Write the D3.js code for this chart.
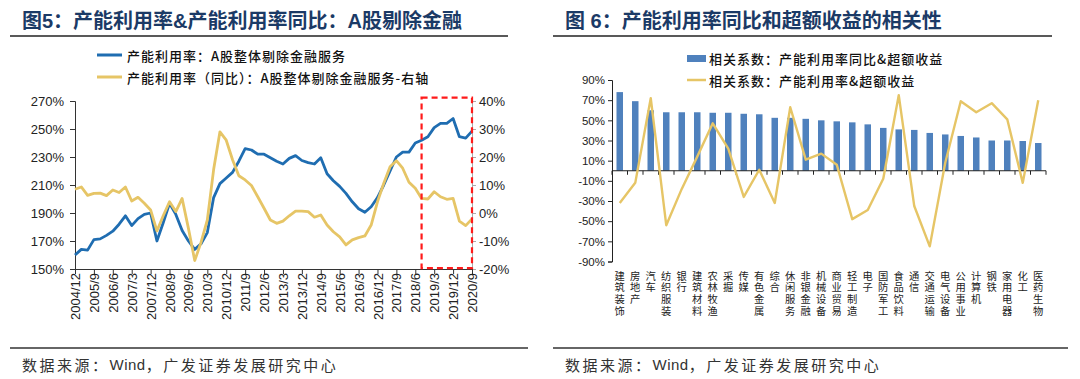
<!DOCTYPE html>
<html><head><meta charset="utf-8">
<script src="https://cdn.jsdelivr.net/npm/d3@7"></script>
<style>
html,body{margin:0;padding:0;background:#fff;}
svg{display:block;}
</style></head>
<body>
<svg id="c" width="1080" height="379"></svg>
<script>
// ---------- Data: left chart (Fig 5) ----------
const quarters = ["2004/12",
"2005/3","2005/6","2005/9","2005/12","2006/3","2006/6","2006/9","2006/12",
"2007/3","2007/6","2007/9","2007/12","2008/3","2008/6","2008/9","2008/12",
"2009/3","2009/6","2009/9","2009/12","2010/3","2010/6","2010/9","2010/12",
"2011/3","2011/6","2011/9","2011/12","2012/3","2012/6","2012/9","2012/12",
"2013/3","2013/6","2013/9","2013/12","2014/3","2014/6","2014/9","2014/12",
"2015/3","2015/6","2015/9","2015/12","2016/3","2016/6","2016/9","2016/12",
"2017/3","2017/6","2017/9","2017/12","2018/3","2018/6","2018/9","2018/12",
"2019/3","2019/6","2019/9","2019/12","2020/3","2020/6","2020/9"];
const quarterTicks = ["2004/12","2005/9","2006/6","2007/3","2007/12","2008/9","2009/6","2010/3",
"2010/12","2011/9","2012/6","2013/3","2013/12","2014/9","2015/6","2016/3","2016/12","2017/9",
"2018/6","2019/3","2019/12","2020/9"];
const capUtil = [160,164,163.5,171,171.5,174,177,182,188,181,
186,189,190,170,183,197,189,177.5,170,164,
168,176,201,211,215,219,227,236,235,232,
232,229.5,227,225,229,231,227.5,226,225,229.5,
218,213,209,204,198,193,190.5,194.5,201,210,
220,230,233.5,233.5,240,242,244.5,251,254,254,
257.5,244.5,243.5,248.5];
const capUtilYoY = [8.5,9.3,6.3,7,7.1,6.2,8.2,7.3,9.3,4.3,
5.6,3.5,1.1,-6.4,-1,4,0.5,5.2,-5.5,-17,
-10.5,-2.5,15.5,29,26,19,13.3,11.8,9.8,5.8,
1.7,-2.5,-3.7,-2.9,-1,0.7,0.7,0.5,-1.5,-0.7,
-4.3,-6.7,-8.5,-11.4,-9.6,-8.8,-8.2,-4.3,4,10.6,
16.5,18.7,16,11,8.8,5.2,5,7.6,5.8,4.9,
5.2,-2.9,-4.5,-2.1];
const leftTicks = [150,170,190,210,230,250,270];
const rightTicks = [-20,-10,0,10,20,30,40];
const highlightFrom = "2018/9", highlightTo = "2020/9";

// ---------- Data: right chart (Fig 6) ----------
const industries = ["建筑装饰","房地产","汽车","纺织服装","银行","建筑材料","农林牧渔","采掘","传媒","有色金属",
"综合","休闲服务","非银金融","机械设备","商业贸易","轻工制造","电子","国防军工","食品饮料","通信",
"交通运输","电气设备","公用事业","计算机","钢铁","家用电器","化工","医药生物"];
const corrYoYExcess = [78,69,60,58,58,58,57.5,57.5,56.5,56,
52.5,52.5,51.5,50,49,48,46,42.5,41,40.5,
37.5,36,34.5,33,30,30,29.5,27.5];
const corrLevelExcess = [-32,-12,72,-54,-18,14,47,22,-26,1,
-32,63,11,17,6,-48,-39,-8,75,-35,
-75,8,69,58,67,51,-12,70];
const corrTicks = [90,70,50,30,10,-10,-30,-50,-70,-90];

// ---------- Styles ----------
const CJK = "'Noto Sans CJK SC','Noto Sans',sans-serif";
const LAT = "'Liberation Sans',Arial,'Noto Sans CJK SC',sans-serif";
const BLUE = "#1f6db1", YEL = "#e6c566", BAR = "#4f81bd", NAVY = "#1b3a66";

const svg = d3.select("#c");
svg.append("rect").attr("width",1080).attr("height",379).attr("fill","#fff");

// ---------- Titles & frames ----------
function header(x, lineX1, lineX2, title){
  svg.append("text").attr("x",x).attr("y",28).attr("font-family",LAT)
    .attr("font-size",20).attr("font-weight","bold").attr("fill",NAVY).text(title);
  svg.append("line").attr("x1",lineX1).attr("x2",lineX2).attr("y1",36).attr("y2",36)
    .attr("stroke","#222").attr("stroke-width",1.5);
}
header(22,10,508,"图5：产能利用率&产能利用率同比：A股剔除金融");
header(565,553,1052,"图 6：产能利用率同比和超额收益的相关性");

function footer(x, x1, x2){
  svg.append("line").attr("x1",x1).attr("x2",x2).attr("y1",348).attr("y2",348)
    .attr("stroke","#333").attr("stroke-width",1.5);
  const t = svg.append("text").attr("x",x).attr("y",364).attr("dominant-baseline","central")
    .attr("font-family",CJK).attr("font-size",15).attr("fill","#333");
  t.append("tspan").attr("letter-spacing",2.5).text("数据来源：");
  t.append("tspan").attr("font-family",LAT).attr("letter-spacing",0.5).text("Wind");
  t.append("tspan").attr("letter-spacing",2.5).text("，广发证券发展研究中心");
}
footer(22,10,528);
footer(565,553,1068);

// ---------- Left chart ----------
const xL = d3.scalePoint().domain(quarters).range([75,472]);
const yL = d3.scaleLinear().domain([150,270]).range([269,101]);
const yR = d3.scaleLinear().domain([-20,40]).range([269,101]);

// legend
const lg = [{t:"产能利用率：A股整体剔除金融服务",c:BLUE,y:55},
            {t:"产能利用率（同比）：A股整体剔除金融服务-右轴",c:YEL,y:77}];
lg.forEach(d=>{
  svg.append("line").attr("x1",97).attr("x2",122).attr("y1",d.y).attr("y2",d.y)
    .attr("stroke",d.c).attr("stroke-width",3);
  svg.append("text").attr("x",127).attr("y",d.y).attr("dominant-baseline","central")
    .attr("font-family",CJK).attr("font-size",13).attr("letter-spacing",1)
    .attr("font-weight",500).attr("fill","#111").text(d.t);
});

const axL = svg.append("g").attr("transform","translate(75,0)")
  .call(d3.axisLeft(yL).tickValues(leftTicks).tickFormat(d=>d+"%").tickSize(5).tickPadding(6));
axL.selectAll("text").attr("font-family",LAT).attr("font-size",13).attr("fill","#222");
axL.selectAll("line,path").attr("stroke","#333");

const axR = svg.append("g").attr("transform","translate(472,0)")
  .call(d3.axisRight(yR).tickValues(rightTicks).tickFormat(d=>d+"%").tickSize(4).tickPadding(3));
axR.selectAll("text").attr("font-family",LAT).attr("font-size",13).attr("fill","#222");
axR.selectAll("line,path").attr("stroke","#aaa");

const axB = svg.append("g").attr("transform","translate(0,269)")
  .call(d3.axisBottom(xL).tickValues(quarterTicks).tickSize(5).tickSizeOuter(0));
axB.select("path").attr("stroke","#333");
axB.selectAll("line").attr("stroke","#333");
axB.selectAll("text").attr("font-family",LAT).attr("font-size",13).attr("fill","#222")
  .attr("transform","rotate(-90)").attr("x",-4).attr("y",0).attr("dy","0.35em")
  .attr("text-anchor","end");

svg.append("path").datum(capUtil)
  .attr("d",d3.line().x((d,i)=>xL(quarters[i])).y(d=>yL(d)))
  .attr("fill","none").attr("stroke",BLUE).attr("stroke-width",2.8).attr("stroke-linejoin","round");
svg.append("path").datum(capUtilYoY)
  .attr("d",d3.line().x((d,i)=>xL(quarters[i])).y(d=>yR(d)))
  .attr("fill","none").attr("stroke",YEL).attr("stroke-width",2.8).attr("stroke-linejoin","round");

// highlight box
svg.append("rect").attr("x",xL(highlightFrom)).attr("y",yR(41.2))
  .attr("width",xL(highlightTo)-xL(highlightFrom)).attr("height",yR(-19.7)-yR(41.2))
  .attr("fill","none").attr("stroke","#ff1a1a").attr("stroke-width",2.2)
  .attr("stroke-dasharray","6,4");

// ---------- Right chart ----------
const xC = d3.scaleBand().domain(industries).range([612,1046]);
const yC = d3.scaleLinear().domain([-90,90]).range([261.5,80]);

const lg2 = svg.append("g");
lg2.append("rect").attr("x",687).attr("y",55).attr("width",19).attr("height",7).attr("fill",BAR);
lg2.append("text").attr("x",709).attr("y",58.5).attr("dominant-baseline","central")
  .attr("font-family",CJK).attr("font-size",13).attr("letter-spacing",1).attr("font-weight",500)
  .attr("fill","#111").text("相关系数：产能利用率同比&超额收益");
lg2.append("line").attr("x1",687).attr("x2",706).attr("y1",80).attr("y2",80)
  .attr("stroke",YEL).attr("stroke-width",2.5);
lg2.append("text").attr("x",709).attr("y",80).attr("dominant-baseline","central")
  .attr("font-family",CJK).attr("font-size",13).attr("letter-spacing",1).attr("font-weight",500)
  .attr("fill","#111").text("相关系数：产能利用率&超额收益");

const bw = xC.bandwidth()*0.42;
svg.append("g").selectAll("rect").data(corrYoYExcess).join("rect")
  .attr("x",(d,i)=>xC(industries[i])+xC.bandwidth()/2-bw/2)
  .attr("width",bw)
  .attr("y",d=>yC(Math.max(0,d)))
  .attr("height",d=>Math.abs(yC(d)-yC(0)))
  .attr("fill",BAR);

const axC = svg.append("g").attr("transform","translate(612,0)")
  .call(d3.axisLeft(yC).tickValues(corrTicks).tickFormat(d=>d+"%").tickSize(4).tickPadding(3).tickSizeOuter(4));
axC.selectAll("text").attr("font-family",LAT).attr("font-size",11.5).attr("fill","#222");
axC.selectAll("line,path").attr("stroke","#222");

// category axis at zero
const zeroY = yC(0);
svg.append("line").attr("x1",612).attr("x2",1046).attr("y1",zeroY).attr("y2",zeroY)
  .attr("stroke","#222").attr("stroke-width",1);
const bounds = industries.map(c=>xC(c)).concat([xC(industries[industries.length-1])+xC.bandwidth()]);
svg.append("g").selectAll("line").data(bounds).join("line")
  .attr("x1",d=>d).attr("x2",d=>d).attr("y1",zeroY).attr("y2",zeroY+4)
  .attr("stroke","#222").attr("stroke-width",1);

svg.append("path").datum(corrLevelExcess)
  .attr("d",d3.line().x((d,i)=>xC(industries[i])+xC.bandwidth()/2).y(d=>yC(d)))
  .attr("fill","none").attr("stroke",YEL).attr("stroke-width",2.4).attr("stroke-linejoin","round");

// vertical stacked category labels (one character per line)
const lab = svg.append("g");
industries.forEach(name=>{
  const cx = xC(name)+xC.bandwidth()/2;
  Array.from(name).forEach((ch,j)=>{
    lab.append("text").attr("x",cx).attr("y",276+j*11.7)
      .attr("text-anchor","middle").attr("dominant-baseline","central")
      .attr("font-family",LAT).attr("font-size",10.3).attr("fill","#222").text(ch);
  });
});
</script>
</body></html>
